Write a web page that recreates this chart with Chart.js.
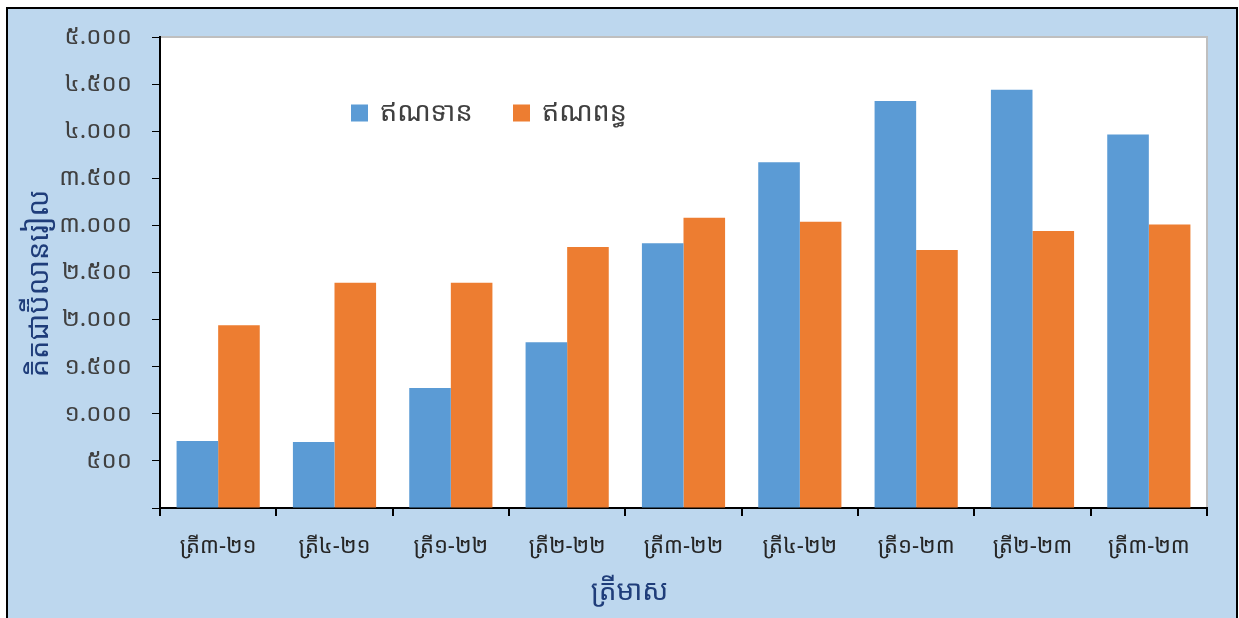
<!DOCTYPE html>
<html>
<head>
<meta charset="utf-8">
<script src="https://cdn.jsdelivr.net/npm/chart.js@4"></script>
<style>
  html, body { margin: 0; padding: 0; background: #ffffff; width: 1239px; height: 618px; overflow: hidden; }
  #frame { position: absolute; left: 6px; top: 7px; width: 1228px; height: 620px;
           border-left: 2px solid #000; border-top: 2px solid #000; border-right: 2px solid #000;
           background: #BDD7EE; }
  #wrap { position: absolute; left: 0; top: 0; width: 1239px; height: 618px; }
</style>
</head>
<body>
<div id="frame"></div>
<div id="wrap"><canvas id="c"></canvas></div>
<script>
const categories = ['ត្រី៣-២១','ត្រី៤-២១','ត្រី១-២២','ត្រី២-២២','ត្រី៣-២២','ត្រី៤-២២','ត្រី១-២៣','ត្រី២-២៣','ត្រី៣-២៣'];
const creditLabel = 'ឥណទាន';
const debitLabel = 'ឥណពន្ធ';
const creditValues = [710, 700, 1275, 1760, 2810, 3670, 4320, 4440, 3965];
const debitValues = [1940, 2390, 2390, 2770, 3080, 3040, 2740, 2940, 3010];
const yTickLabels = ['', '៥០០', '១.០០០', '១.៥០០', '២.០០០', '២.៥០០', '៣.០០០', '៣.៥០០', '៤.០០០', '៤.៥០០', '៥.០០០'];
const yTitle = 'គិតជាប៊ីលានរៀល';
const xTitle = 'ត្រីមាស';

const KH_FONT = "'Noto Sans Khmer', 'Khmer OS', 'Khmer OS System', 'DejaVu Sans', sans-serif";

const plotBg = {
  id: 'plotBg',
  beforeDraw(chart) {
    const { ctx, chartArea: a } = chart;
    ctx.save();
    ctx.fillStyle = '#ffffff';
    ctx.fillRect(a.left, a.top, a.right - a.left, a.bottom - a.top);
    ctx.strokeStyle = '#BFBFBF';
    ctx.lineWidth = 2;
    ctx.beginPath();
    ctx.moveTo(a.left, a.top);
    ctx.lineTo(a.right, a.top);
    ctx.lineTo(a.right, a.bottom);
    ctx.stroke();
    ctx.restore();
  }
};

const axisTitles = {
  id: 'axisTitles',
  afterDraw(chart) {
    const { ctx, chartArea: a } = chart;
    ctx.save();
    ctx.fillStyle = '#1F3D7A';
    ctx.textAlign = 'center';
    ctx.textBaseline = 'middle';
    ctx.font = '28px ' + KH_FONT;
    ctx.fillText(xTitle, chart.width / 2 + 10, a.bottom + 84);
    ctx.translate(40, (a.top + a.bottom) / 2 + 11);
    ctx.rotate(-Math.PI / 2);
    ctx.font = '29px ' + KH_FONT;
    ctx.fillText(yTitle, 0, 0);
    ctx.restore();
  }
};

const innerLegend = {
  id: 'innerLegend',
  afterDraw(chart) {
    const { ctx, chartArea: a } = chart;
    const items = chart.data.datasets.map(d => ({ text: d.label, color: d.backgroundColor }));
    ctx.save();
    ctx.font = '27px ' + KH_FONT;
    ctx.textBaseline = 'middle';
    let x = a.left + 191;
    const y = a.top + 76;
    const box = 17;
    items.forEach(it => {
      ctx.fillStyle = it.color;
      ctx.fillRect(x, y - box / 2, box, box);
      ctx.fillStyle = '#404040';
      ctx.fillText(it.text, x + box + 12, y);
      x += 162;
    });
    ctx.restore();
  }
};

new Chart(document.getElementById('c'), {
  type: 'bar',
  data: {
    labels: categories,
    datasets: [
      { label: creditLabel, data: creditValues, backgroundColor: '#5B9BD5', borderWidth: 0 },
      { label: debitLabel, data: debitValues, backgroundColor: '#ED7D31', borderWidth: 0 }
    ]
  },
  options: {
    responsive: true,
    maintainAspectRatio: false,
    animation: false,
    devicePixelRatio: 1,
    layout: { padding: { left: 0, top: 37, right: 32, bottom: 0 } },
    datasets: { bar: { categoryPercentage: 0.715, barPercentage: 1.0 } },
    plugins: {
      legend: { display: false },
      tooltip: { enabled: false }
    },
    scales: {
      x: {
        grid: { display: true, drawOnChartArea: false, drawTicks: true, tickLength: 8, color: '#000000', lineWidth: 2, offset: true },
        border: { display: true, color: '#000000', width: 2 },
        ticks: { color: '#262626', font: { family: KH_FONT, size: 22 }, padding: 18, maxRotation: 0 },
        title: { display: false },
        afterFit(s) { s.height = 110; }
      },
      y: {
        min: 0, max: 5000,
        grid: { display: true, drawOnChartArea: false, drawTicks: true, tickLength: 8, color: '#000000', lineWidth: 1 },
        border: { display: true, color: '#000000', width: 2 },
        ticks: {
          stepSize: 500, color: '#404040', font: { family: KH_FONT, size: 24 }, padding: 20,
          callback: (v, i) => yTickLabels[i]
        },
        title: { display: false },
        afterFit(s) { s.width = 160; }
      }
    }
  },
  plugins: [plotBg, axisTitles, innerLegend]
});
</script>
</body>
</html>
